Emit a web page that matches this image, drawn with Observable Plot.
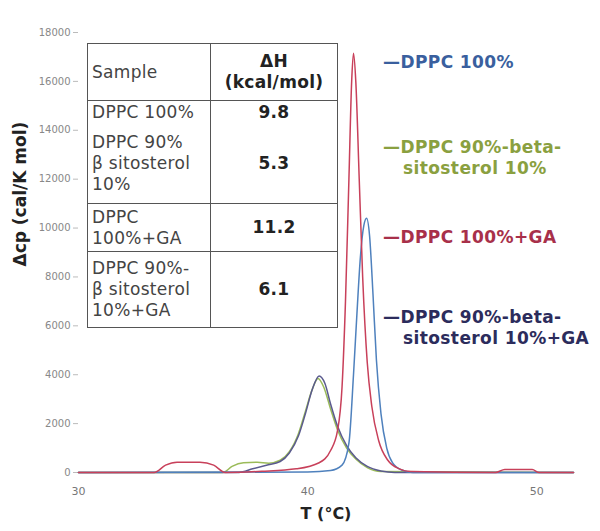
<!DOCTYPE html>
<html>
<head>
<meta charset="utf-8">
<script src="https://cdn.jsdelivr.net/npm/d3@7"></script>
<script src="https://cdn.jsdelivr.net/npm/@observablehq/plot@0.6"></script>
<style>
  html, body { margin: 0; padding: 0; background: #fff; }
  #wrap { position: relative; width: 600px; height: 531px; font-family: "DejaVu Sans", Verdana, sans-serif; }
  #tbl { position: absolute; left: 87px; top: 43px; border-collapse: collapse; background: #fff; color: #444; font-size: 17px; letter-spacing: 0.3px; line-height: 21px; }
  #tbl td { border: 1.5px solid #555; padding: 0 0 0 4px; vertical-align: middle; white-space: nowrap; }
  #tbl td.v { text-align: center; font-weight: bold; padding: 0; color: #222; }
  #tbl tr.nob td { border-bottom: none; }
  #tbl tr.not td { border-top: none; }
  .leg { position: absolute; font-weight: bold; font-size: 17px; letter-spacing: 0.4px; line-height: 21px; white-space: nowrap; }
</style>
</head>
<body>
<div id="wrap"></div>
<script>
// ---- data ----
const seriesNames = ["DPPC 100%", "DPPC 90%-beta-sitosterol 10%", "DPPC 100%+GA", "DPPC 90%-beta-sitosterol 10%+GA"];

const tDPPC = [30, 40, 41, 41.5, 41.8, 42.0, 42.15, 42.3, 42.45, 42.57, 42.7, 42.85, 43.0, 43.2, 43.45, 43.7, 44.1, 44.6, 51.6];
const cpDPPC = [0, 20, 80, 300, 1200, 4000, 6500, 8800, 10100, 10400, 9700, 7300, 4600, 2400, 1000, 400, 100, 0, 0];

const tSito = [30, 36.3, 36.7, 37.2, 37.8, 38.3, 38.8, 39.2, 39.6, 39.9, 40.2, 40.45, 40.7, 41.0, 41.3, 41.7, 42.1, 42.6, 43.2, 51.6];
const cpSito = [0, 0, 250, 400, 420, 380, 500, 850, 1600, 2500, 3400, 3850, 3500, 2600, 1750, 1000, 550, 200, 40, 0];

const tDPPCGA = [30, 33.3, 33.8, 34.3, 35.3, 35.9, 36.4, 38, 39.5, 40.5, 41.0, 41.3, 41.5, 41.65, 41.8, 41.92, 42.0, 42.1, 42.25, 42.4, 42.6, 42.8, 43.1, 43.5, 44.0, 44.5, 48.2, 48.6, 49.8, 50.1, 51.6];
const cpDPPCGA = [0, 0, 300, 420, 420, 300, 0, 50, 150, 400, 900, 1700, 3500, 7000, 12000, 16000, 17150, 16000, 12000, 8000, 4500, 2700, 1300, 500, 150, 40, 0, 120, 120, 0, 0];

const tSitoGA = [30, 37.0, 37.6, 38.2, 38.8, 39.2, 39.6, 39.9, 40.2, 40.5, 40.75, 41.0, 41.3, 41.7, 42.1, 42.6, 43.2, 43.8, 51.6];
const cpSitoGA = [0, 0, 150, 300, 450, 800, 1500, 2400, 3400, 3950, 3650, 2800, 1900, 1100, 600, 250, 60, 0, 0];

const yTicks = [0, 2000, 4000, 6000, 8000, 10000, 12000, 14000, 16000, 18000];
const xTicks = [30, 40, 50];

const tableSamples = [["DPPC 100%"], ["DPPC 90%", "β sitosterol", "10%"], ["DPPC", "100%+GA"], ["DPPC 90%-", "β sitosterol", "10%+GA"]];
const tableDH = ["9.8", "5.3", "11.2", "6.1"];

const lineColors = ["#4F81BD", "#9BBB59", "#C8405A", "#5A5A8E"];
const textColors = ["#3A5F9E", "#8AA040", "#A8304A", "#2C2C5C"];

// ---- build rows ----
function rows(ts, cps, name) { return ts.map((t, i) => ({T: t, cp: cps[i], s: name})); }
const data = [
  rows(tSito, cpSito, seriesNames[1]),
  rows(tSitoGA, cpSitoGA, seriesNames[3]),
  rows(tDPPC, cpDPPC, seriesNames[0]),
  rows(tDPPCGA, cpDPPCGA, seriesNames[2])
];
const colorOf = Object.fromEntries(seriesNames.map((n, i) => [n, lineColors[i]]));

const chart = Plot.plot({
  width: 600, height: 531,
  marginLeft: 78, marginRight: 27, marginTop: 32, marginBottom: 59,
  style: {fontFamily: "DejaVu Sans, sans-serif", background: "transparent"},
  x: {domain: [30, 51.6]},
  y: {domain: [0, 18000]},
  marks: [
    Plot.axisY({ticks: yTicks, tickSize: 5, tickPadding: 3, tickFormat: d => String(d), fontSize: 10, label: null, color: "#888", stroke: "#bbb"}),
    Plot.axisX({ticks: xTicks, tickSize: 0, tickPadding: 15, fontSize: 11, label: null, color: "#777"}),
    ...data.map(d => Plot.line(d, {x: "T", y: "cp", stroke: colorOf[d[0].s], strokeWidth: 1.5, curve: "monotone-x"})),
    Plot.text(["T (°C)"], {frameAnchor: "bottom", dy: 46, fontWeight: "bold", fontSize: 16, fill: "#222"}),
    Plot.text(["Δcp (cal/K mol)"], {frameAnchor: "left", dx: -58, dy: 14, rotate: -90, fontWeight: "bold", fontSize: 17, fill: "#222"})
  ]
});
const wrap = document.getElementById("wrap");
chart.style.position = "absolute"; chart.style.left = "0"; chart.style.top = "0";
wrap.appendChild(chart);

// ---- table overlay ----
const rowHeights = [24, 79, 48, 76];
let html = '<table id="tbl"><colgroup><col style="width:123px"><col style="width:127px"></colgroup>';
html += '<tr style="height:57px"><td>Sample</td><td class="v">ΔH<br>(kcal/mol)</td></tr>';
tableSamples.forEach((s, i) => {
  const cls = i === 0 ? ' class="nob"' : (i === 1 ? ' class="not"' : '');
  html += `<tr${cls} style="height:${rowHeights[i]}px"><td>${s.join("<br>")}</td><td class="v">${tableDH[i]}</td></tr>`;
});
html += '</table>';
wrap.insertAdjacentHTML("beforeend", html);

// ---- legend labels ----
const legendLines = [["—DPPC 100%"], ["—DPPC 90%-beta-", "sitosterol 10%"], ["—DPPC 100%+GA"], ["—DPPC 90%-beta-", "sitosterol 10%+GA"]];
const legendTop = [52, 137, 227, 307];
legendLines.forEach((lines, k) => {
  const div = document.createElement("div");
  div.className = "leg";
  div.style.left = "383px";
  div.style.top = legendTop[k] + "px";
  div.style.color = textColors[k];
  div.innerHTML = lines.map((l, j) => j === 0 ? l : '<span style="padding-left:20px">' + l + '</span>').join("<br>");
  wrap.appendChild(div);
});
</script>
</body>
</html>
